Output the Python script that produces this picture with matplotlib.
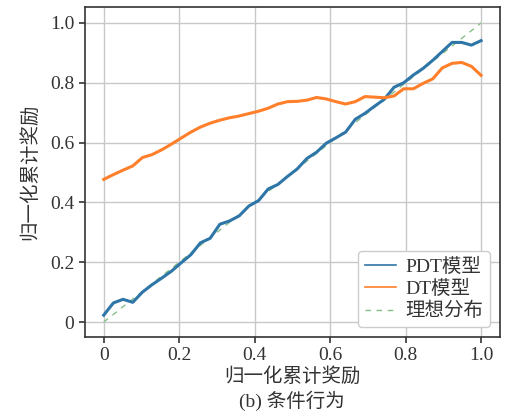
import matplotlib
matplotlib.use('Agg')
import matplotlib.pyplot as plt
from matplotlib.lines import Line2D
import numpy as np

plt.rcParams['font.family'] = ['Liberation Serif', 'Noto Sans CJK SC']
plt.rcParams['font.size'] = 14

# normalized return-to-go targets (40 evenly spaced points)
x = np.linspace(0, 1, 40)

pdt = [0.023, 0.064, 0.076, 0.066, 0.100, 0.125, 0.147, 0.170, 0.198, 0.225,
       0.265, 0.280, 0.327, 0.338, 0.355, 0.388, 0.406, 0.445, 0.460, 0.487,
       0.512, 0.547, 0.568, 0.598, 0.616, 0.635, 0.678, 0.698, 0.722, 0.745,
       0.785, 0.800, 0.826, 0.848, 0.875, 0.905, 0.935, 0.935, 0.926, 0.941]

dt = [0.477, 0.493, 0.508, 0.522, 0.550, 0.560, 0.576, 0.595, 0.615, 0.635,
      0.652, 0.665, 0.675, 0.683, 0.689, 0.697, 0.705, 0.715, 0.729, 0.737,
      0.738, 0.742, 0.751, 0.746, 0.737, 0.729, 0.737, 0.754, 0.752, 0.750,
      0.756, 0.780, 0.780, 0.798, 0.813, 0.850, 0.865, 0.868, 0.855, 0.825]

ideal_x = [0, 1]
ideal_y = [0, 1]

labels = ['PDT模型', 'DT模型', '理想分布']
xticks = [0, 0.2, 0.4, 0.6, 0.8, 1.0]
xticklabels = ['0', '0.2', '0.4', '0.6', '0.8', '1.0']

ideal_color = '#86bf86'

fig = plt.figure(figsize=(5.05, 4.13), dpi=100)
ax = fig.add_axes([0.168, 0.184, 0.822, 0.798])

ax.plot(x, pdt, color='#2e75a8', lw=2.2, zorder=3)
ax.plot(x, dt, color='#ff7f2a', lw=2.2, zorder=3)
ax.plot(ideal_x, ideal_y, color=ideal_color, lw=1, ls=(0, (4, 4)), zorder=2)

ax.set_xticks(xticks)
ax.set_xticklabels(xticklabels)
ax.set_yticks([0, 0.2, 0.4, 0.6, 0.8, 1.0])
ax.set_yticklabels(['0', '0.2', '0.4', '0.6', '0.8', '1.0'])
ax.set_xlim(-0.05, 1.05)
ax.set_ylim(-0.05, 1.052)
ax.grid(True, color='#c8c8c8', lw=1)
ax.set_axisbelow(True)
ax.tick_params(direction='out', length=4, width=1.2, labelsize=14, colors='#333333')
for s in ax.spines.values():
    s.set_color('#333333')
    s.set_linewidth(1.2)

ax.set_xlabel('归一化累计奖励', fontsize=14, color='#333333', labelpad=2)
ax.set_ylabel('归一化累计奖励', fontsize=14, color='#333333', labelpad=8)
fig.text(0.578, 0.03, '(b) 条件行为', ha='center', va='center', fontsize=14, color='#333333')

handles = [
    Line2D([0], [0], color='#2e75a8', lw=1.2),
    Line2D([0], [0], color='#ff7f2a', lw=1.2),
    Line2D([0], [0], color=ideal_color, lw=1, ls=(0, (4, 4))),
]
leg = ax.legend(handles, labels, loc='lower right', fontsize=14, framealpha=1,
                edgecolor='#cccccc', borderaxespad=0.5, handlelength=1.6,
                handletextpad=0.5, labelspacing=0.2, borderpad=0.35)
for t in leg.get_texts():
    t.set_color('#333333')

plt.savefig('out.png', dpi=100)
